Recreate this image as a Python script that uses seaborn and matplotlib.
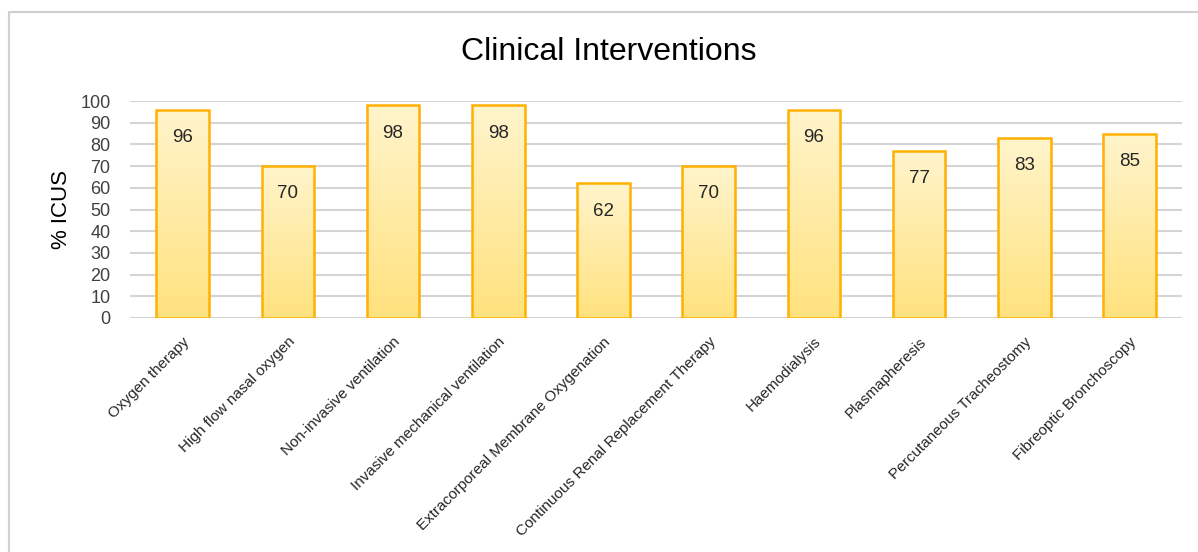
import numpy as np
import pandas as pd
import matplotlib
matplotlib.use("Agg")
import matplotlib.pyplot as plt
import seaborn as sns
from matplotlib.colors import LinearSegmentedColormap
from matplotlib.lines import Line2D

categories = ["Oxygen therapy", "High flow nasal oxygen", "Non-invasive ventilation",
              "Invasive mechanical ventilation", "Extracorporeal Membrane Oxygenation",
              "Continuous Renal Replacement Therapy", "Haemodialysis", "Plasmapheresis",
              "Percutaneous Tracheostomy", "Fibreoptic Bronchoscopy"]
values = [96, 70, 98, 98, 62, 70, 96, 77, 83, 85]
yticks = [0, 10, 20, 30, 40, 50, 60, 70, 80, 90, 100]

sns.set_theme(style="white")
plt.rcParams['font.family'] = ['Liberation Sans', 'DejaVu Sans']

W, H = 1198, 552
fig = plt.figure(figsize=(W / 100, H / 100), dpi=100)
ax = fig.add_axes([130 / W, 1 - 318 / H, (1182 - 130) / W, (318 - 101) / H])

df = pd.DataFrame({"cat": categories, "val": values})
sns.barplot(data=df, x="cat", y="val", ax=ax, width=0.5, color="#FFE99A",
            edgecolor="#FFB000", linewidth=1.8, zorder=3)

ax.set_ylim(0, 100)
ax.set_xlim(-0.5, len(categories) - 0.5)
ax.set_yticks(yticks)
ax.set_yticklabels([str(t) for t in yticks], fontsize=13, color="#404040")
ax.tick_params(axis='y', length=0, pad=14)
ax.tick_params(axis='x', length=0, pad=12)
for t in yticks:
    ax.axhline(t, color="#D4D4D4", linewidth=1.5, zorder=1)
for s in ax.spines.values():
    s.set_visible(False)

# gradient fill for bars
cmap = LinearSegmentedColormap.from_list("g", ["#FFE27E", "#FFF4CC"])
grad = np.linspace(0, 1, 256).reshape(-1, 1)
for p, v in zip(ax.patches, values):
    x0 = p.get_x(); w = p.get_width()
    # soft shadow
    ax.add_patch(plt.Rectangle((x0 + 0.012, 0), w, v - 0.6, facecolor="#000000",
                               alpha=0.08, edgecolor="none", zorder=2.5))
    im = ax.imshow(grad, extent=[x0, x0 + w, 0, v], origin='lower', cmap=cmap,
                   aspect='auto', zorder=3.5)
    im.set_clip_path(p)
    p.set_facecolor("none")
    p.set_zorder(4)
    ax.annotate(str(v), (x0 + w / 2, v), xytext=(0, -20), textcoords='offset points',
                ha='center', va='center', fontsize=13.5, color="#262626", zorder=5)
ax.set_xlim(-0.5, len(categories) - 0.5)
ax.set_ylim(0, 100)

ax.set_xticks(range(len(categories)))
ax.set_xticklabels(categories, rotation=45, ha='right', rotation_mode='anchor',
                   fontsize=11, color="#262626")
ax.set_xlabel("")
ax.set_ylabel("% ICUS", fontsize=16, color="#000000", labelpad=6)

fig.text(609 / W, 1 - 52 / H, "Clinical Interventions", ha='center', va='center',
         fontsize=23, color="#000000")

# chart border
fig.add_artist(Line2D([9 / W, 9 / W, 1.0], [0, 1 - 12 / H, 1 - 12 / H],
                      transform=fig.transFigure, color="#D0D0D0", linewidth=1.5))

fig.savefig("out.png", dpi=100)
